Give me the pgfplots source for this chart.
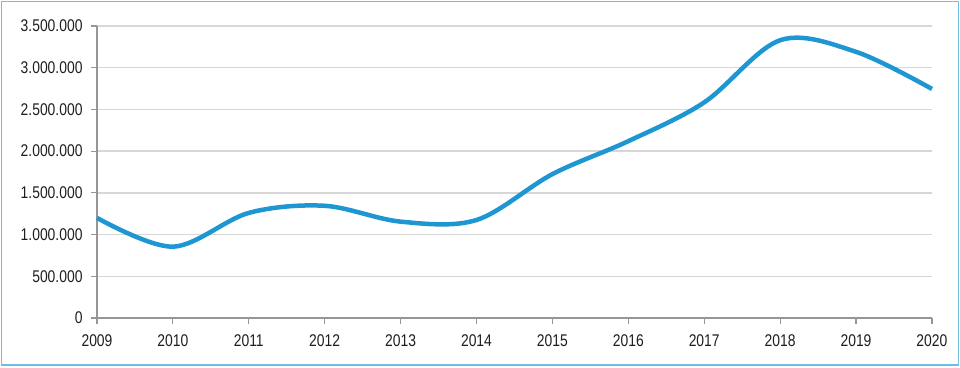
\documentclass[border=0pt]{standalone}
\usepackage{fontspec}
\setmainfont{Liberation Sans}
\usepackage{graphicx}
\usepackage{pgfplots}
\pgfplotsset{compat=1.18}
\definecolor{linecol}{RGB}{30,150,210}
\definecolor{gridcol}{RGB}{215,215,215}
\definecolor{axcol}{RGB}{150,150,150}
\definecolor{framecol}{RGB}{110,190,225}
\definecolor{textcol}{RGB}{30,30,30}
\begin{document}
\begin{tikzpicture}[x=1bp,y=1bp]
\useasboundingbox (0,0) rectangle (960,367);
\draw[framecol, line width=1.6bp] (1.5,2) rectangle (958.5,365.5);
\begin{axis}[
  at={(97bp,49bp)}, anchor=origin,
  scale only axis, width=835bp, height=292bp,
  xmin=2009, xmax=2020, ymin=0, ymax=3500000,
  xtick={2009,...,2020},
  ytick={0,500000,...,3500000},
  axis lines=left, axis line style={axcol, line width=1.2bp, -},
  tick style={axcol, line width=1.2bp},
  tick align=outside, major tick length=6bp,
  ymajorgrids, grid style={gridcol, line width=1.3bp},
  xticklabel style={text=textcol, yshift=-7bp, font=\fontsize{17}{19}\selectfont, /pgf/number format/.cd, 1000 sep={}},
  yticklabel style={text=textcol, xshift=-5bp, font=\fontsize{17}{19}\selectfont, /pgf/number format/.cd, fixed, 1000 sep={.}},
  xticklabel={\scalebox{0.82}[1]{\pgfmathprintnumber{\tick}}},
  yticklabel={\scalebox{0.82}[1]{\pgfmathprintnumber{\tick}}},
  /pgf/number format/assume math mode=true,
  scaled y ticks=false,
  clip=false,
]
\addplot[linecol, line width=4.5bp, smooth, tension=0.55] coordinates {
(2009,1200000) (2010,855000) (2011,1260000) (2012,1345000) (2013,1155000)
(2014,1175000) (2015,1725000) (2016,2120000) (2017,2585000) (2018,3330000)
(2019,3190000) (2020,2745000)
};
\end{axis}
\end{tikzpicture}
\end{document}
